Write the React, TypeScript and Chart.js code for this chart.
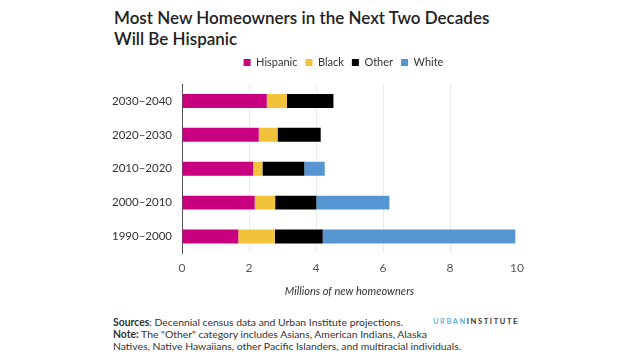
import React, { useEffect, useRef } from "react";
import Chart from "chart.js/auto";

const categories = ["2030–2040", "2020–2030", "2010–2020", "2000–2010", "1990–2000"];
const hispanic = [2.53, 2.29, 2.12, 2.17, 1.68];
const black = [0.6, 0.56, 0.28, 0.61, 1.09];
const other = [1.39, 1.29, 1.25, 1.23, 1.43];
const white = [0, 0, 0.61, 2.18, 5.75];
const xTicks = [0, 2, 4, 6, 8, 10];

const FONT = "Lato, 'Open Sans', sans-serif";

const legendTweak = {
  id: "legendTweak",
  beforeLayout(chart: any) {
    const lg = chart.legend;
    if (lg && !lg._patched) {
      const f = lg.fit;
      lg.fit = function () {
        f.call(this);
        this.height += 6;
      };
      lg._patched = true;
    }
  },
  afterLayout(chart: any) {
    const lg = chart.legend;
    if (lg) {
      lg.left += 34;
      lg.right += 34;
    }
  },
};

export default function App() {
  const ref = useRef<HTMLCanvasElement>(null);
  useEffect(() => {
    if (!ref.current) return;
    const chart = new Chart(ref.current, {
      type: "bar",
      data: {
        labels: categories,
        datasets: [
          { label: "Hispanic", data: hispanic, backgroundColor: "#c8007f" },
          { label: "Black", data: black, backgroundColor: "#f2c23a" },
          { label: "Other", data: other, backgroundColor: "#000000" },
          { label: "White", data: white, backgroundColor: "#5596d2" },
        ].map((d) => ({ ...d, barPercentage: 1, categoryPercentage: 0.41, borderWidth: 0 })),
      },
      plugins: [legendTweak],
      options: {
        indexAxis: "y",
        animation: false,
        responsive: false,
        maintainAspectRatio: false,
        layout: { padding: { left: 2, right: 68, top: 0, bottom: 0 } },
        plugins: {
          legend: {
            display: true,
            position: "top",
            labels: {
              boxWidth: 7,
              boxHeight: 7,
              padding: 8,
              color: "#333",
              font: { family: FONT, size: 11 },
            },
          },
          tooltip: { enabled: false },
        },
        scales: {
          x: {
            stacked: true,
            min: 0,
            max: 10,
            afterBuildTicks: (axis: any) => {
              axis.ticks = xTicks.map((v) => ({ value: v }));
            },
            grid: {
              drawTicks: false,
              color: (ctx: any) =>
                ctx.tick && (ctx.tick.value === 0 || ctx.tick.value === 10) ? "rgba(0,0,0,0)" : "#ebebeb",
              lineWidth: 1,
            },
            border: { display: false },
            ticks: { padding: 8, color: "#555", font: { family: FONT, size: 12 } },
            title: {
              display: true,
              text: "Millions of new homeowners",
              color: "#333",
              font: { family: FONT, size: 11, style: "italic" },
              padding: { top: 1, bottom: 0 },
            },
          },
          y: {
            stacked: true,
            grid: { display: false, drawTicks: false },
            border: { display: true, color: "#555", width: 1 },
            ticks: { padding: 10, color: "#333", font: { family: FONT, size: 11.5 } },
          },
        },
      },
    });
    return () => chart.destroy();
  }, []);

  return (
    <div style={{ position: "fixed", left: 0, top: 0, width: 640, height: 360, background: "#fff", fontFamily: FONT, color: "#222" }}>
      <div style={{ position: "absolute", left: 114, top: 7, fontSize: 17, fontWeight: 600, lineHeight: "21px", color: "#222" }}>
        Most New Homeowners in the Next Two Decades
        <br />
        Will Be Hispanic
      </div>
      <canvas ref={ref} width={485} height={249} style={{ position: "absolute", left: 100, top: 49, width: 485, height: 249 }} />
      <div style={{ position: "absolute", left: 113, top: 316, fontSize: 10.4, lineHeight: "12px", color: "#333" }}>
        <div><b>Sources</b>: Decennial census data and Urban Institute projections.</div>
        <div><b>Note:</b> The "Other" category includes Asians, American Indians, Alaska</div>
        <div>Natives, Native Hawaiians, other Pacific Islanders, and multiracial individuals.</div>
      </div>
      <div style={{ position: "absolute", left: 433, top: 317, fontSize: 7.5, letterSpacing: "1.6px", lineHeight: "10px", whiteSpace: "nowrap" }}>
        <span style={{ color: "#3a9ad6" }}>URBAN</span>
        <span style={{ color: "#333", fontWeight: 700 }}>INSTITUTE</span>
      </div>
    </div>
  );
}
